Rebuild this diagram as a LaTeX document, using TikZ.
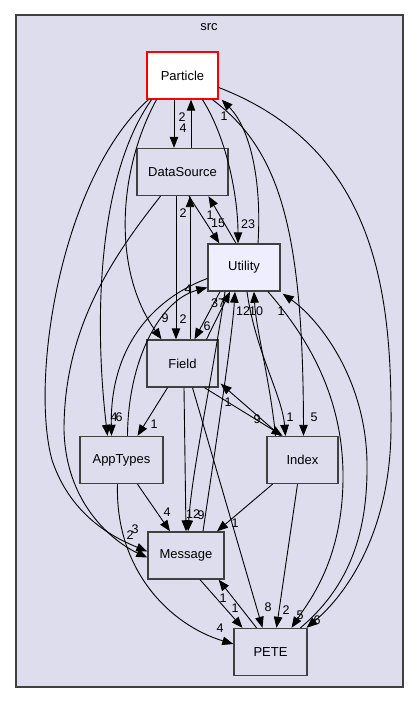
\documentclass[tikz,border=0pt]{standalone}
\usepackage{fontspec}
\setmainfont{Liberation Sans}
\usetikzlibrary{arrows.meta,calc}
\definecolor{clusterbg}{HTML}{DDDDEE}
\definecolor{framegray}{HTML}{404040}
\definecolor{utilbg}{HTML}{EEEEFF}
\tikzset{
  dirbox/.style={draw=framegray, line width=1.4pt, fill=clusterbg, minimum height=47pt, inner sep=0pt, font=\fontsize{13}{15}\selectfont},
  dep/.style={-{Triangle[length=11pt,width=8.5pt]}, line width=0.9pt},
  lbl/.style={font=\fontsize{12.5}{14}\selectfont, inner sep=0pt}
}

\begin{document}
\begin{tikzpicture}[x=1pt,y=-1pt]
   \useasboundingbox (0,0) rectangle (419,703);
   \draw[framegray, fill=clusterbg, line width=1.4pt] (16,15) rectangle (403,687);
   \node[font=\fontsize{13}{15}\selectfont] (src) at (209,27) {src};

   \node[dirbox, draw=red, fill=white, minimum width=71pt] (Particle) at (182.5,75.5) {Particle};
   \node[dirbox, minimum width=91pt] (DataSource) at (182.5,172) {DataSource};
   \node[dirbox, fill=utilbg, minimum width=72pt] (Utility) at (244,267.5) {Utility};
   \node[dirbox, minimum width=71pt] (Field) at (182.5,363.5) {Field};
   \node[dirbox, minimum width=83pt] (AppTypes) at (121.5,460) {AppTypes};
   \node[dirbox, minimum width=71pt] (Index) at (302.5,460) {Index};
   \node[dirbox, minimum width=76pt] (Message) at (186,555.5) {Message};
   \node[dirbox, minimum width=73pt] (PETE) at (270.5,652) {PETE};

   % Particle and DataSource
   \draw[dep] ($(Particle.south)+(-8.5,0)$) -- ($(DataSource.north)+(-8.5,0)$) node[lbl] at (183,128) {4};
   \draw[dep] ($(DataSource.north)+(8.5,0)$) -- ($(Particle.south)+(8.5,0)$) node[lbl] at (182,117) {2};
   \draw[dep] ($(Particle.south)+(20,0)$) .. controls (228,140) and (238,200) .. ($(Utility.north)+(-6,0)$) node[lbl] at (248,224) {23};
   \draw[dep] ($(Utility.north)+(14,0)$) .. controls (262,180) and (250,128) .. ($(Particle.south east)+(3,0)$) node[lbl] at (224,116) {1};
   \draw[dep] ($(DataSource.south)+(6.5,0)$) -- ($(Utility.north west)+(12,0)$) node[lbl] at (218,223) {15};
   \draw[dep] ($(Utility.north)+(-8,0)$) -- ($(DataSource.south)+(26,0)$) node[lbl] at (210,215) {1};
   \draw[dep] ($(DataSource.south)+(-6.5,0)$) -- ($(Field.north)+(-6.5,0)$) node[lbl] at (183,319) {2};
   \draw[dep] ($(Field.north)+(7.5,0)$) -- ($(DataSource.south)+(7.5,0)$) node[lbl] at (183,213) {2};
   \draw[dep] ($(Particle.south)+(-26,0)$) .. controls (118,170) and (112,270) .. ($(Field.north)+(-21,0)$) node[lbl] at (165,318) {9};

   % Field and Utility
   \draw[dep] ($(Field.north)+(24,0)$) -- ($(Utility.south)+(-14,0)$) node[lbl] at (218,303) {37};
   \draw[dep] ($(Utility.south)+(-24,0)$) -- ($(Field.north)+(12,0)$) node[lbl] at (207,326) {6};

   % AppTypes
   \draw[dep] ($(Particle.south)+(-31,0)$) .. controls (95,180) and (95,330) .. ($(AppTypes.north)+(-14,0)$) node[lbl] at (114,417) {4};
   \draw[dep] ($(Utility.west)+(0,11)$) .. controls (150,300) and (110,350) .. ($(AppTypes.north)+(-10,0)$) node[lbl] at (119,417) {6};
   \draw[dep] ($(AppTypes.north)+(6,0)$) .. controls (128,360) and (160,300) .. ($(Utility.west)+(0,20)$) node[lbl] at (188,289) {4};
   \draw[dep] ($(Field.south)+(-15,0)$) -- ($(AppTypes.north)+(16,0)$) node[lbl] at (154,424) {1};

   % Index
   \draw[dep] ($(Field.south)+(22,0)$) -- ($(Index.north)+(-20,0)$) node[lbl] at (257,419) {9};
   \draw[dep] ($(Index.north)+(-22,0)$) -- ($(Field.south east)+(2,-4)$) node[lbl] at (228,402) {1};
   \draw[dep] ($(Utility.south)+(3,0)$) .. controls (255,350) and (282,395) .. ($(Index.north)+(-17,0)$) node[lbl] at (290,417) {1};
   \draw[dep] ($(Particle.south)+(30,0)$) .. controls (280,150) and (303,230) .. ($(Index.north)+(1,0)$) node[lbl] at (314,417) {5};
   \draw[dep] ($(Index.north)+(-27,0)$) .. controls (270,380) and (256,330) .. ($(Utility.south)+(10,0)$) node[lbl] at (256,311) {10};

   % Message
   \draw[dep] ($(Message.north)+(17,0)$) .. controls (215,450) and (232,340) .. ($(Utility.south)+(-9,0)$) node[lbl] at (243,311) {12};
   \draw[dep] ($(Utility.south)+(-19,0)$) .. controls (212,380) and (192,470) .. ($(Message.north)+(2,0)$) node[lbl] at (201,515) {9};
   \draw[dep] ($(Field.south)+(1.5,0)$) -- (Message.north) node[lbl] at (193,514) {12};
   \draw[dep] ($(AppTypes.south)+(16,0)$) -- ($(Message.north)+(-16,0)$) node[lbl] at (167,512) {4};
   \draw[dep] ($(Index.south)+(-30,0)$) -- ($(Message.north)+(31,0)$) node[lbl] at (235,523) {1};
   \draw[dep] ($(Particle.south west)+(2,0)$) .. controls (60,180) and (30,380) .. (52,460) .. controls (72,520) and (120,540) .. ($(Message.west)+(0,-4)$) node[lbl] at (135,529) {3};
   \draw[dep] ($(DataSource.south)+(-22,0)$) .. controls (110,260) and (64,330) .. (64,430) .. controls (66,510) and (120,545) .. ($(Message.west)+(0,2)$) node[lbl] at (130,535) {2};

   % PETE
   \draw[dep] ($(Field.south)+(10,0)$) -- ($(PETE.north)+(-8,0)$) node[lbl] at (268,607) {8};
   \draw[dep] ($(AppTypes.south)+(-4,0)$) .. controls (115,570) and (170,625) .. ($(PETE.west)+(0,-8)$) node[lbl] at (220,628) {4};
   \draw[dep] ($(Index.south)+(-5,0)$) -- ($(PETE.north)+(6,0)$) node[lbl] at (286,610) {2};
   \draw[dep] ($(Message.south)+(14,0)$) -- ($(PETE.north)+(-28,0)$) node[lbl] at (223,598) {1};
   \draw[dep] ($(PETE.north)+(-14,0)$) -- ($(Message.south east)+(-6,0)$) node[lbl] at (235,608) {1};
   \draw[dep] ($(Utility.south)+(24,0)$) .. controls (310,340) and (344,400) .. (343,480) .. controls (342,560) and (310,600) .. ($(PETE.north)+(21,0)$) node[lbl] at (300,615) {5};
   \draw[dep] ($(PETE.north)+(30,0)$) .. controls (345,590) and (368,540) .. (367,463) .. controls (366,380) and (320,320) .. ($(Utility.south east)+(2,2)$) node[lbl] at (281,311) {1};
   \draw[dep] ($(Particle.east)+(0,12)$) .. controls (380,150) and (392,300) .. (391,430) .. controls (390,540) and (340,600) .. ($(PETE.north)+(36,0)$) node[lbl] at (317,620) {6};
\end{tikzpicture}
\end{document}
